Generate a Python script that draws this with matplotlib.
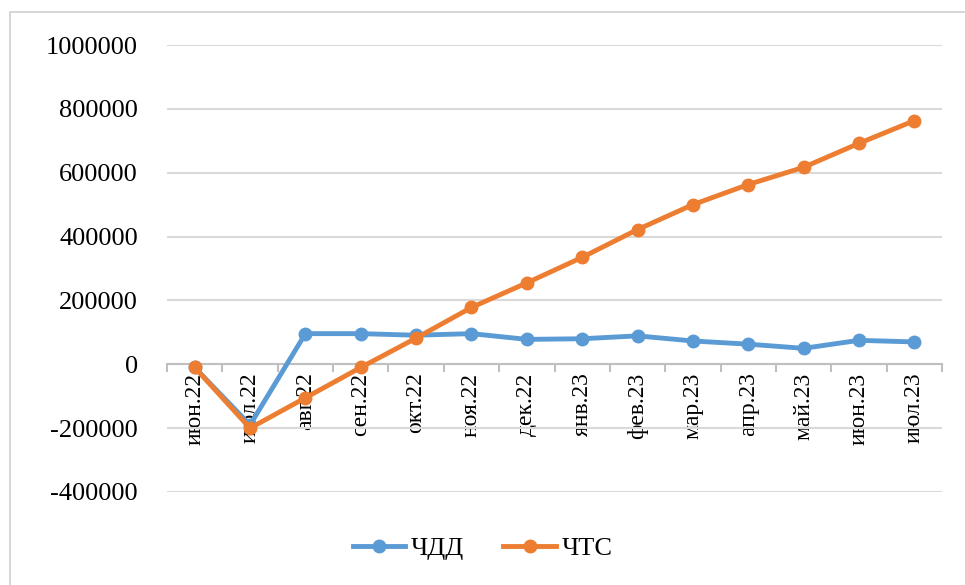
import matplotlib
matplotlib.use("Agg")
import matplotlib.pyplot as plt
from matplotlib.patches import Rectangle
import numpy as np

categories = ["июн.22", "июл.22", "авг.22", "сен.22", "окт.22", "ноя.22", "дек.22",
              "янв.23", "фев.23", "мар.23", "апр.23", "май.23", "июн.23", "июл.23"]
chdd = [-10000, -190000, 96000, 96000, 91000, 96000, 78000, 80000, 89000, 73000,
        63000, 50000, 75000, 70000]
chts = [-10000, -200000, -105000, -10000, 82000, 178000, 255000, 335000, 422000,
        500000, 563000, 617000, 692000, 763000]
yticks = [-400000, -200000, 0, 200000, 400000, 600000, 800000, 1000000]

plt.rcParams['font.family'] = ['Liberation Serif', 'DejaVu Serif']

W, H = 965, 585
fig = plt.figure(figsize=(W / 100, H / 100), dpi=100)
fig.patch.set_facecolor('white')

# outer chart border
fig.patches.append(Rectangle((10 / W, -0.1), 1.2, (H - 12) / H + 0.1,
                             transform=fig.transFigure, fill=False,
                             edgecolor='#d0d0d0', linewidth=1.2))

ax = fig.add_axes([167 / W, (H - 492) / H, (942 - 167) / W, (492 - 45) / H])
x = np.arange(len(categories))

ax.plot(x, chdd, color='#5B9BD5', linewidth=3.5, marker='o', markersize=9,
        label='ЧДД', zorder=3, clip_on=False)
ax.plot(x, chts, color='#ED7D31', linewidth=3.5, marker='o', markersize=9,
        label='ЧТС', zorder=4, clip_on=False)

ax.set_xlim(-0.5, len(categories) - 0.5)
ax.set_ylim(-400000, 1000000)
ax.set_yticks(yticks)
ax.set_yticklabels([str(v) for v in yticks], fontsize=19)
ax.tick_params(axis='y', length=0, pad=21)
ax.grid(axis='y', color='#d9d9d9', linewidth=1.5, zorder=0)
ax.set_axisbelow(True)

for s in ['top', 'right', 'left']:
    ax.spines[s].set_visible(False)
ax.spines['bottom'].set_position(('data', 0))
ax.spines['bottom'].set_color('#bfbfbf')
ax.spines['bottom'].set_linewidth(1.5)

ax.set_xticks(np.arange(-0.5, len(categories), 1.0))
ax.set_xticklabels([])
ax.set_xticks(x, minor=True)
ax.set_xticklabels(categories, minor=True, rotation=90, fontsize=17)
ax.tick_params(axis='x', which='major', length=6, color='#bfbfbf', width=1.5)
ax.tick_params(axis='x', which='minor', length=0, pad=6)
for lbl in ax.get_xticklabels(minor=True):
    lbl.set_va('top')
    lbl.set_ha('center')

leg = fig.legend(loc='center', bbox_to_anchor=(0.5, (H - 548) / H), ncol=2,
                 frameon=False, fontsize=19, handlelength=2.0,
                 columnspacing=1.5, handletextpad=0.2)

fig.savefig('out.png', dpi=100, facecolor='white')
